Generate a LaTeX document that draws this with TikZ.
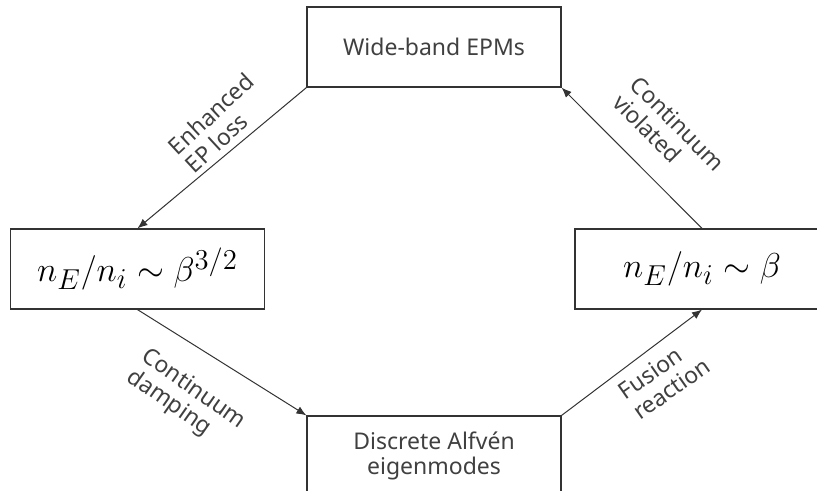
\documentclass[tikz,border=0pt]{standalone}
\usepackage{amsmath}
\usepackage{fontspec}
\newfontfamily\labelfont{Noto Sans}
\usetikzlibrary{arrows.meta}

\begin{document}
\begin{tikzpicture}
		[x=0.5pt,y=-0.5pt,
		 box/.style= {draw=black!80,line width=0.6pt,minimum width=127pt,minimum height=40pt,inner sep=0pt},
		 boxtext/.style= {font=\labelfont\fontsize{11.5}{12.5}\selectfont,text=black!75,align=center},
		 ratio/.style= {font=\fontsize{19}{23}\selectfont},
		 branch/.style= {-{Latex[length=5pt,width=4pt]},draw=black!80,line width=0.5pt},
		 lab/.style= {font=\labelfont\fontsize{11.5}{12.5}\selectfont,text=black!75,align=left,sloped}]
		
		\useasboundingbox (0,0) rectangle (817,491);
		
		\node[box,boxtext] (wide) at (434,47) {Wide-band EPMs};
		\node[box,ratio] (low) at (137.5,269) {$n_E/n_i \sim \beta^{3/2}$};
		\node[box,ratio] (high) at (702,269) {$n_E/n_i \sim \beta$};
		\node[box,boxtext] (dae) at (434,456) {Discrete Alfv\'en\\eigenmodes};
		
		\path (wide.south west)
			edge[branch] node[lab,rotate=3,pos=0.4,above=0pt] {Enhanced\\EP loss} (low.north);
		\path (low.south)
			edge[branch] node[lab,rotate=-3,pos=0.46,below=10pt] {Continuum\\damping} (dae.north west);
		\path (dae.north east)
			edge[branch] node[lab,rotate=-2,pos=0.6,below=2pt] {Fusion\\reaction} (high.south);
		\path (high.north)
			edge[branch] node[lab,pos=0.46,above=8pt] {Continuum\\violated} (wide.south east);
		
	\end{tikzpicture}
\end{document}
